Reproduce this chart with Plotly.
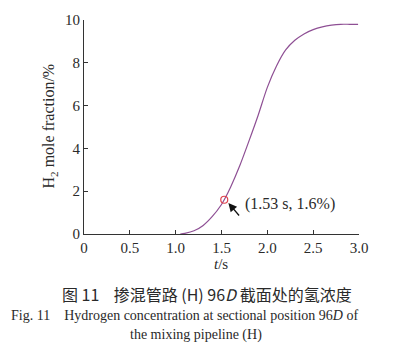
import plotly.graph_objects as go

# data
t_s = [1.05, 1.1, 1.2, 1.3, 1.4, 1.5, 1.53, 1.6, 1.7, 1.8, 1.9, 2.0, 2.1, 2.2, 2.3,
       2.4, 2.5, 2.6, 2.7, 2.8, 2.9, 2.99]
h2_pct = [0.0, 0.03, 0.15, 0.40, 0.82, 1.38, 1.6, 2.2, 3.2, 4.35, 5.55, 6.85, 7.85,
          8.6, 9.05, 9.35, 9.55, 9.68, 9.76, 9.8, 9.8, 9.8]
mark_t = [1.53]
mark_v = [1.6]
x_ticks = [0, 0.5, 1.0, 1.5, 2.0, 2.5, 3.0]
x_tick_text = ["0", "0.5", "1.0", "1.5", "2.0", "2.5", "3.0"]
y_ticks = [0, 2, 4, 6, 8, 10]

W, H = 409, 351
L, R, T, B = 84, 50, 15, 117
PW, PH = W - L - R, H - T - B

def px(x):
    return (x - L) / PW

def py(y):
    return (H - B - y) / PH

SERIF = "Liberation Serif"
CJK = "Noto Sans CJK SC"
TXT = "#2a2a2a"

fig = go.Figure()
fig.add_trace(go.Scatter(x=t_s, y=h2_pct, mode="lines",
                         line=dict(color="#8e4f94", width=1.2, shape="spline", smoothing=0.8),
                         hoverinfo="skip", showlegend=False))
fig.add_trace(go.Scatter(x=mark_t, y=mark_v, mode="markers",
                         marker=dict(symbol="circle-open", size=7, color="#e0404a",
                                     line=dict(width=1.2, color="#e0404a")),
                         showlegend=False))

axis_common = dict(showline=True, linecolor="#333", linewidth=1, ticks="inside",
                   ticklen=4, tickcolor="#333", showgrid=False, zeroline=False,
                   tickfont=dict(family=SERIF, size=15, color=TXT), mirror=False)
fig.update_xaxes(range=[0, 3], tickvals=x_ticks, ticktext=x_tick_text, **axis_common)
fig.update_yaxes(range=[0, 10], tickvals=y_ticks, **axis_common)

def label(xp, yp, text, size, family=SERIF, angle=0):
    return dict(xref="paper", yref="paper", x=px(xp), y=py(yp), text=text,
                xanchor="center", yanchor="middle", textangle=angle,
                showarrow=False, font=dict(family=family, size=size, color=TXT))

ann = []
ann.append(label(221, 265, "<i>t</i>/s", 15))
ann.append(label(50, 124, "H<sub>2</sub> mole fraction/%", 16, angle=-90))
# data label + arrow
ann.append(dict(x=1.575, y=1.45, ax=12, ay=14, text="", showarrow=True,
                arrowhead=2, arrowsize=1.3, arrowwidth=1.3, arrowcolor="#111"))
ann.append(dict(x=1.735, y=1.42, text="(1.53 s, 1.6%)", showarrow=False,
                xanchor="left", yanchor="middle",
                font=dict(family=SERIF, size=16, color=TXT)))
# captions
ann.append(label(207, 295, "图 11    掺混管路 (H) 96<i>D</i> 截面处的氢浓度", 16, family=CJK))
ann.append(label(184, 317,
                 "Fig. 11    Hydrogen concentration at sectional position 96<i>D</i> of", 14))
ann.append(label(196, 337, "the mixing pipeline (H)", 14))

fig.update_layout(width=W, height=H, margin=dict(l=L, r=R, t=T, b=B),
                  paper_bgcolor="white", plot_bgcolor="white",
                  annotations=ann, showlegend=False)

fig.write_html("out.html")
